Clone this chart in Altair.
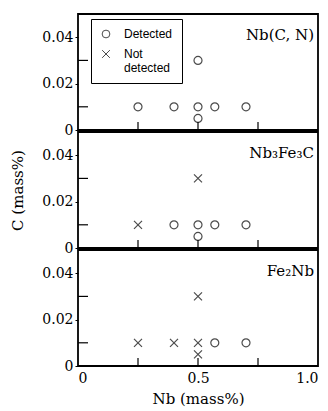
import altair as alt
import pandas as pd

# Data
nb = [0.25, 0.4, 0.5, 0.57, 0.7, 0.5, 0.5]
c = [0.01, 0.01, 0.01, 0.01, 0.01, 0.005, 0.03]
res_nbcn = ["Detected", "Detected", "Detected", "Detected", "Detected", "Detected", "Detected"]
res_nb3fe3c = ["Not detected", "Detected", "Detected", "Detected", "Detected", "Detected", "Not detected"]
res_fe2nb = ["Not detected", "Not detected", "Not detected", "Detected", "Detected", "Not detected", "Not detected"]
phase_labels = ["Nb(C, N)", "Nb₃Fe₃C", "Fe₂Nb"]
results = [res_nbcn, res_nb3fe3c, res_fe2nb]

x_major = [0, 0.5, 1.0]
x_minor = [0.25, 0.5, 0.75]
y_major = [0, 0.02, 0.04]
y_minor = [0.01, 0.03]

W, H = 240, 116
XDOM = [0, 1.0]
YDOM = [0, 0.05]
SERIF = "DejaVu Serif"

shape_scale = alt.Scale(domain=["Detected", "Not detected"],
                        range=["circle", "M-1,-1L1,1M1,-1L-1,1"])


def panel(i):
    df = pd.DataFrame({"nb": nb, "c": c, "res": results[i]})
    bottom = i == 2
    if bottom:
        xaxis = alt.Axis(values=x_major, domain=False, ticks=False, grid=False,
                         title="Nb (mass%)",
                         labelExpr="datum.value == 0 ? '0' : format(datum.value, '.1f')",
                         labelPadding=5, titlePadding=6)
    else:
        xaxis = None
    yaxis = alt.Axis(values=y_major, domain=False, grid=False, tickSize=3,
                     labelExpr="datum.value == 0 ? '0' : format(datum.value, '.2f')",
                     title="C (mass%)" if i == 1 else None, titlePadding=16)
    xs = alt.Scale(domain=XDOM, nice=False)
    ys = alt.Scale(domain=YDOM, nice=False)
    legend = None
    if i == 0:
        legend = alt.Legend(title=None, orient="none", legendX=13, legendY=5,
                            strokeColor="black", fillColor="white", padding=9,
                            labelFont="Liberation Sans", labelFontSize=12,
                            symbolStrokeColor="black", symbolSize=60,
                            symbolStrokeWidth=1, rowPadding=8, labelOffset=12,
                            labelExpr="datum.label == 'Not detected' ? ['Not', 'detected'] : datum.label")
    pts = alt.Chart(df).mark_point(filled=False, color="black", size=64, strokeWidth=1.2).encode(
        x=alt.X("nb:Q", scale=xs, axis=xaxis),
        y=alt.Y("c:Q", scale=ys, axis=yaxis),
        shape=alt.Shape("res:N", scale=shape_scale, legend=legend),
    )
    xt = alt.Chart(pd.DataFrame({"v": x_minor})).mark_rule(color="black", strokeWidth=1.2).encode(
        x=alt.X("v:Q", scale=xs, axis=xaxis),
        y=alt.value(H), y2=alt.value(H - 8))
    yt = alt.Chart(pd.DataFrame({"v": y_minor})).mark_rule(color="black", strokeWidth=1.2).encode(
        y=alt.Y("v:Q", scale=ys, axis=yaxis),
        x=alt.value(0), x2=alt.value(10))
    lab = alt.Chart(pd.DataFrame({"t": [phase_labels[i]]})).mark_text(
        align="right", baseline="middle", font=SERIF, fontSize=15, color="black"
    ).encode(text="t:N", x=alt.value(W - 4), y=alt.value(21))
    return alt.layer(pts, xt, yt, lab).properties(width=W, height=H).resolve_scale(shape="independent")


chart = alt.vconcat(panel(0), panel(1), panel(2), spacing=2, bounds="flush").resolve_scale(
    shape="independent").resolve_legend(shape="independent").properties(
    padding={"left": 9, "top": 13, "right": 3, "bottom": 2},
    background="white"
).configure_view(stroke="black", strokeWidth=1.8).configure_axis(
    labelFont=SERIF, labelFontSize=14, labelColor="black",
    titleFont=SERIF, titleFontSize=15, titleFontWeight="normal", titleColor="black",
    tickColor="black", labelPadding=2
)

chart.save("out.html", embed_options={"renderer": "svg", "actions": False})
